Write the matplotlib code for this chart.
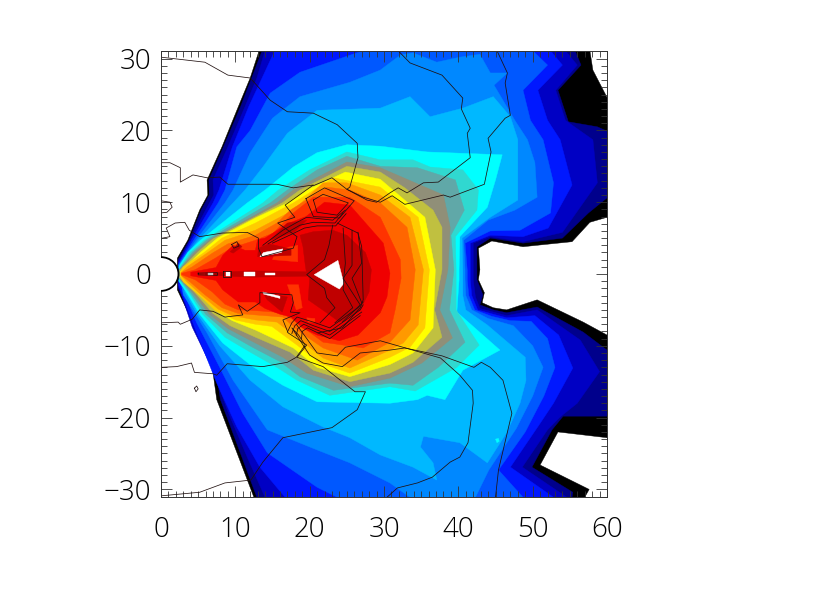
import matplotlib
matplotlib.use("Agg")
import matplotlib.pyplot as plt
from matplotlib.patches import Circle
from matplotlib.ticker import MultipleLocator

colors = ["#000000", "#00008c", "#0000c4", "#0018ff", "#0058ff", "#0088ff", "#00b8ff", "#00ffff",
          "#30d8d0", "#60a8a8", "#908f78", "#c0c040", "#ffff00", "#ffcc00", "#ff9900", "#ff6600",
          "#ff3300", "#f00000"]

B0 = [(13.2,31.1),(12,27.3),(10.4,23.3),(8.2,17.7),(6.2,13.1),(6.3,11),(5.2,8.9),(3.6,4.7),(2.2,2.2),(2.2,-2.2),(4.3,-6.8),(6.9,-13),(7.5,-17.5),(12.5,-31.1),
      (57,-31.1),(57.6,-30),(51,-26.6),(53.4,-22),(60,-22.8),(60,-8.5),(56.8,-6.7),(50.6,-3.6),(46.5,-5),(44.7,-4.7),(43.2,-4),(43.5,-2.6),(42.7,-.8),(42.9,.6),(42.7,3.6),(44.5,4.6),(48.7,3.8),(55.3,4.5),(57.7,7.2),(60,7.9),(60,24.6),(58.1,28.4),(57.7,31.1)]
B1 = [(13.6,31.1),(12.2,27.3),(10.7,23.3),(8.4,17.7),(6.45,13.1),(6.5,11),(5.4,8.9),(3.8,4.7),(2.3,2),(2.3,-2),(4.5,-6.8),(7.3,-13),(8,-17.5),(12.9,-31.1),
      (55.3,-31.1),(55.4,-30.4),(49.9,-26.9),(52.6,-21.7),(54.1,-19.8),(60,-19.8),(60,-10.6),(56.8,-8.1),(50.6,-4.6),(46.5,-5.4),(44.7,-5),(42.9,-4.3),(43.3,-2.9),(42.5,-.8),(42.5,.5),(42.5,3.8),(44.3,5),(48.7,4.3),(54,5),(57.5,8.5),(60,10.6),(60,19.9),(58.7,20.5),(54.8,21.2),(53.4,25.6),(56.5,29.1),(55.7,31.1)]
B2 = [(14,31.1),(12.9,27.3),(11.3,23.3),(9,17.7),(7,13.1),(7.1,11),(6,8.9),(3.9,4.7),(2.4,1.8),(2.4,-1.8),(4.2,-7.4),(7,-13.4),(8.9,-18.9),(11.6,-25.5),(14,-31.1),
      (54.6,-31.1),(48.6,-26.9),(52,-21.7),(53.7,-19.9),(56,-18),(59,-13.6),(56.4,-9.2),(50.6,-5),(46.5,-5.8),(44.7,-5.3),(42.9,-4.8),(42.3,-3.2),(42,-.8),(42,.5),(42,4.3),(44.3,5.2),(48.7,4.5),(54,5.8),(58.7,12.7),(58.1,18.7),(54.4,21.4),(53.1,25.6),(56,29.1),(54.4,31.1)]
B3 = [(15.3,31.1),(13.6,27.3),(11.8,23.3),(9.6,17.7),(7.8,11.7),(7,9.9),(4.1,4.7),(2.4,1.6),(2.4,-1.6),(4.8,-8.2),(7.5,-15.2),(10.2,-21.3),(13.3,-26.9),(16.7,-31.1),
      (52.8,-31.1),(47,-26.9),(51,-20.8),(52.8,-18),(55.4,-13.1),(53.5,-8.5),(50.3,-5.8),(46.5,-6.1),(44.7,-5.6),(42.6,-5),(41.8,-3),(41.6,-.8),(41.6,.5),(41.6,4.3),(44.3,5.4),(48.7,5.2),(52.1,6.4),(55.3,12.4),(53.7,18.7),(52,21.4),(50.7,25.6),(54,29.1),(52.4,31.1)]
B4 = [(27.2,31.1),(18.7,28.1),(14.7,25.2),(12,20),(10.2,17.7),(8.6,11.7),(7.7,9.9),(4.4,4.7),(2.4,1.4),(2.6,-1.4),(4.8,-6.8),(7.9,-13),(11,-19.4),(14.3,-24.9),(21,-29.7),(23.7,-31.1),
      (48.7,-31.1),(45.4,-27.3),(49,-22),(51.5,-17),(53,-13),(52,-9),(49.8,-6.6),(47,-6.5),(44.5,-5.9),(42.2,-5),(41.4,-3),(41.2,-.8),(41.2,.5),(40.9,4.3),(44.3,6),(48.3,6.1),(52.4,8.5),(52.8,12.7),(51.4,18.7),(49.7,21.4),(48.7,25.6),(52,29.1),(50,31.1)]
B5 = [(33.9,30.8),(32.2,30.5),(29.5,28.4),(25.4,26.7),(18.7,24.7),(15,21.7),(12,16.9),(9.7,11.7),(8.6,9.9),(4.7,4.7),(2.4,1.3),(3,-2.9),(6.2,-8.2),(9.7,-14.8),(14.3,-21.7),(21,-24.5),(25.4,-26.3),(30.8,-29.1),(33.5,-31.1),
      (42.3,-31.1),(44.1,-27.3),(47.8,-21.5),(50,-17),(51.4,-13),(50,-10),(47.4,-7.2),(44,-6.2),(41.8,-5),(41,-3),(40.9,-.8),(40.9,.6),(40.7,4.7),(44,7.5),(47.6,8.9),(50.6,10.7),(50.3,15.5),(49.3,18.7),(47.6,21.4),(44.8,26.3),(46.6,28),(44.3,28),(42.9,30.6),(40.2,30.2),(37.1,29.5)]
B6 = [(29.5,23.1),(21,22.8),(17,19.6),(13.7,14.9),(11.3,11.7),(9.7,9.9),(5,4.7),(2.4,1.2),(3.2,-2.5),(4.9,-5.6),(7.9,-10),(12,-14.8),(16.4,-18.5),(21.8,-21.3),(25.4,-22.8),(29.5,-25.2),(33.9,-26.9),(37.1,-28.7),(36.6,-26.3),(34.9,-24.1),(35.3,-22.6),(40.2,-23.5),(43.9,-26.3),(46.5,-22.1),(48.3,-18),(49.1,-14.8),(49,-11.6),(43.9,-7.1),(41,-5),(40.6,-3),(40.6,-.8),(40.6,.6),(40.5,5),(44.3,7.9),(48,10.3),(48,18.7),(47,21.9),(44.7,24.7),(40.6,23.1),(36.2,21.9),(33.5,24.7)]
B7 = [(25,18),(21,16.9),(17.8,14.9),(14,11.7),(11.6,9.9),(5.3,4.7),(3.6,3),(2.4,1),(2.4,-1),(3.4,-2.5),(5.2,-5.6),(8.3,-9.6),(12.2,-12.8),(16.4,-15.5),(21,-17.8),(30.8,-18),(34.5,-17.5),(35.8,-16.9),(38.2,-17.5),(40.6,-13.4),(45.6,-10.6),(39.8,-5.3),(40.1,-.8),(40.1,.6),(40.2,5.2),(43.9,9.3),(45,13.1),(45.9,16.6),(35.8,17),(29.5,17.8)]
B8 = [(25,17),(20,14.5),(15.8,11.7),(13.7,9.9),(5.8,4.7),(3.9,3),(2.5,.9),(2.5,-.9),(3.7,-2.5),(5.6,-5.6),(8.6,-8.8),(12.2,-11),(15.6,-13),(18.3,-14.8),(22.7,-16.9),(30.8,-15.7),(34.2,-16.3),(39.8,-13),(42.8,-9.9),(39.7,-5),(39.7,.6),(39.6,5.2),(42.5,8.9),(42.7,11.7),(40.6,14.5),(36.2,14.9),(33.9,15.9),(29.5,15.9)]
B9 = [(25,16.4),(21,14.5),(17,11.7),(14.7,9.9),(6.1,4.7),(4.2,3),(2.5,.7),(2.5,-.7),(3.9,-2.5),(6,-5.6),(8.9,-8.2),(12.3,-10.2),(16,-12.2),(18.7,-14.3),(23.2,-16.2),(30.8,-15.2),(33.9,-15.5),(37.3,-13),(40.9,-9.5),(38.8,-5),(39.4,.6),(39,5.4),(40.8,8.9),(39.6,13.1),(34.5,14.8),(29.5,15)]
B10 = [(25,15.6),(17.8,11.7),(15.6,9.9),(6.5,4.7),(4.5,3),(2.5,.6),(2.5,-.6),(4.2,-2.5),(6.5,-5.6),(9,-7.6),(12.5,-9.5),(16.4,-11.6),(19.6,-13.8),(25.4,-15.7),(30.8,-14.5),(35.1,-12.4),(39.2,-8.9),(37.5,-5),(38.6,.6),(38.9,6.5),(38,11),(29.5,14.8)]
B11 = [(25,15),(18.7,11.7),(16.3,9.9),(7,4.9),(4.9,3),(2.5,.5),(2.5,-.5),(4.5,-2.5),(7,-5.5),(9.3,-7.2),(12.7,-8.8),(17.4,-10.9),(20.5,-13.4),(25.4,-15),(30.8,-13.8),(33.9,-12.3),(37.8,-8.8),(36.8,-5),(37.8,.6),(37.8,6.5),(36.6,8.9),(32.8,12),(29.5,14.2)]
B12 = [(24.8,14.2),(19.6,11.7),(17,9.9),(12.7,7.8),(7.6,5),(5.3,3),(2.6,.3),(2.6,-.3),(4.8,-2.5),(7.7,-5.3),(9.6,-6.5),(12.7,-7.8),(17.8,-10.3),(21,-13),(25.4,-14.3),(30.8,-12.6),(33.9,-11),(36.6,-7.5),(36.9,.6),(35.5,7.9),(29.5,13.2)]
B13 = [(23.2,13.4),(17.8,9.9),(12.7,7.1),(8.2,5),(5.8,3),(3,1),(2.6,.25),(2.6,-.25),(3,-1.1),(5.2,-3),(7.3,-5.1),(10,-6.4),(12.7,-7),(14.9,-7.3),(18.3,-9.9),(21.4,-12.4),(25.4,-13.8),(30.8,-11.6),(33.5,-10.2),(35.5,-7.5),(36.1,.6),(34.6,7.9),(29.5,12.1)]
B14 = [(25,12.7),(21.8,12.7),(17.8,8.9),(12.7,6.1),(8.6,4.7),(6.3,3),(3.5,1),(2.7,.2),(2.7,-.2),(3.5,-1.1),(5.5,-3),(7.7,-4.9),(9.6,-5.8),(12.7,-6.4),(15.6,-6.7),(18.4,-8.9),(21.8,-11.7),(25.4,-13.1),(30.8,-10.6),(32.6,-9.6),(34.6,-7.1),(35.3,.6),(33.5,7.9),(29.5,11)]
B15 = [(25.4,11.7),(22.3,12.1),(17.4,8.9),(15.6,7.1),(12.7,5.4),(9,4.2),(6.9,2.9),(4.2,1),(2.7,.15),(2.7,-.15),(3.9,-1.1),(5.9,-2.9),(8.2,-4.7),(10.4,-5.5),(12.7,-5.7),(16.4,-6),(18.3,-7.8),(21.8,-10.3),(26.4,-12),(30.8,-9.5),(33.5,-6.4),(34.2,.6),(33.1,6.5),(29.5,9.9)]
B16 = [(25.4,10.7),(20.5,10.7),(17.8,8.5),(15.1,5.7),(12.7,4.7),(9.4,3.6),(7.3,2.2),(4.6,.6),(2.8,.1),(2.8,-.1),(4.6,-.8),(6.9,-2.5),(8.6,-4.2),(10.4,-5),(12.7,-5.1),(16.4,-5.4),(18.3,-6.8),(21.8,-9.5),(27.2,-10.3),(30.8,-8.2),(31.5,-5),(32.3,-.6),(32.2,2),(29.5,7.9)]
B17 = [(25.4,9.6),(22,10),(19.5,8),(17,7),(14,5),(13,4.8),(12.7,3.3),(11.3,3.3),(9.7,4),(8.3,2.6),(7.4,.9),(4,.25),(4,-.25),(7.4,-.9),(8.3,-2.2),(10.4,-3.9),(12.7,-3.9),(14,-4.8),(16,-5.6),(17.5,-6),(19,-7.5),(21,-8.5),(24,-9.3),(26.5,-8.5),(29.5,-5.4),(30.4,-3.2),(30.8,.1),(29.9,4.3)]
orange_up = [(15,2),(15.5,3.4),(18.4,4),(18.4,1.7)]
orange_lo1 = [(17,-1.5),(18.5,-1.5),(19,-4.7),(18.2,-5)]
orange_lo2 = [(19.6,-6.1),(20.7,-6.2),(20.7,-6.7),(19.8,-6.7)]
dark_main = [(19.6,-.1),(19.4,1.3),(19.1,3.8),(18.7,5.4),(20.5,5.9),(23.1,6.1),(25,5.4),(27.5,3),(28.3,.6),(28,-2.5),(26.8,-5),(24,-6.7),(22.7,-5.7),(19.8,-3.6),(20,-.6)]
dark_strip = [(6,.15),(12,.45),(19.6,.3),(19.6,-.3),(12,-.45),(6,-.15)]
dark_up = [(13,2.4),(13.1,3.6),(14.5,4.2),(17.5,3.5),(17.5,2.6)]
dark_up2 = [(14.7,4.7),(17,7.1),(19.6,7.5),(18,5.9)]
dark_lo = [(13.7,-2.6),(17,-3.2),(16.3,-5.3),(14.3,-3.6)]
dark_blob = [(9.3,3.1),(10.4,4.3),(10.9,3.8),(9.7,2.9)]
white_core = [(20.6,-.1),(23.8,1.9),(24.6,-1.3),(24,-2.1)]
white_slits = [[(13.3,2.4),(13.8,3),(16.4,3.5),(16.2,3)], [(13.7,-2.5),(16,-3.1),(16,-3.4),(13.8,-2.8)],
               [(6.3,.1),(7,.1),(7,-.1),(6.3,-.1)],
               [(8.8,.25),(9.3,.25),(9.3,-.25),(8.8,-.25)], [(11.2,.25),(12.6,.25),(12.6,-.25),(11.2,-.25)],
               [(14,.15),(15.4,.15),(15.4,-.15),(14,-.15)]]

L1 = [(0,30.2),(5.9,29.5),(9,27.7),(12,27.3),(14.7,24.2),(17,22.6),(20.5,22.4),(23.7,20.8),(26.4,18.2),(26.5,16.2),(25.4,12.1),(25,11.8),(27.7,10.3),(29,10),(30.8,11.3),(31.9,12),(33.1,11.3),(35.3,12.7),(37.3,12.8),(41.6,16.2),(41.2,19.6),(41.6,20.3),(40.4,23),(40.6,24.5),(37.8,27.7),(33.5,29.4),(31.9,31.1)]
L2 = [(0,15.5),(1.2,15.5),(2.6,14.8),(2.6,12.8),(4.3,13.8),(6.2,13.4),(7.9,13.5),(9,12.5),(15.6,12.5),(17.8,12),(20.5,12.4),(16.7,9.6),(18,7.9),(15.7,7.1),(18.3,5.2),(17.8,3.6),(13.6,2.4),(13.1,3.6),(13.1,5),(11.6,5.8),(8.2,5.7),(5.2,5.2),(3.8,6.1),(3.2,7.2),(1.9,7.1),(.7,6.4),(1.2,5.2),(.2,5)]
L3 = [(20.5,12.3),(23,13.4),(25,11.8),(27.2,10.7),(29.5,10),(31.1,10.9),(32.8,9.7),(38,11),(38.9,10.7),(43.5,12.5),(44.4,17),(44,18.9),(46.3,21.7),(47,22.1),(46.3,26.6),(46.6,28),(45.2,31.1)]
L5 = [(0,-6.8),(2.3,-6.7),(2.6,-7),(4.2,-6.3),(5.2,-5),(7,-5.2),(8.6,-6),(11,-5.7),(10.4,-4.3),(11.6,-5.2),(13.3,-4),(13.3,-2.6),(17.6,-2.9),(17.8,-4),(17.4,-5.3),(18.7,-5.4),(16.4,-6.4),(17.1,-8.2),(19.6,-9.9),(18.3,-11.6),(21.8,-12.9),(26.1,-16.4),(27.5,-16.4),(26.4,-18.9),(23,-21.4),(16.4,-22.8),(13.7,-26.2),(12.1,-28.7),(8.6,-29.1),(5.2,-30.4),(0,-30.9)]
L6 = [(0,-13),(2.1,-12.9),(4.1,-12.4),(4.5,-13.7),(7,-13.9),(7.5,-14.1),(8.9,-12.5),(13.7,-12.9),(17,-12.3),(18.2,-11.6),(19.4,-9.9),(18.5,-8.5),(17.6,-7.5),(20,-11.3),(21.8,-12.4),(24.4,-12.9),(26.8,-11),(30.8,-10.6),(32.8,-10.3),(37.8,-11.4),(42.1,-13),(43.1,-12.3),(44.3,-13),(46,-14.8),(47.2,-19.4),(45.4,-27.3),(45,-31.1)]
L7 = [(18.2,-7),(19.4,-8.7),(21,-11),(23.7,-11.4),(24.8,-10.2),(29.5,-9.3),(37.6,-11.7),(40.2,-14.1),(41.9,-16.2),(42,-18),(41.3,-23.5),(40.2,-25.5),(38.9,-26.2),(36.5,-28.3),(34.5,-29.1),(31.8,-29.8),(30.4,-31.1)]
C1 = [(23.1,6.8),(22.6,4),(22,2),(19.6,-.1),(22,-2),(22.3,-3.3),(23.4,-4.7),(21.4,-6.8)]
C2 = [(24.5,6.4),(24.8,1.5),(24.6,-.4),(24.5,-2.2),(25.8,-4.7),(23.4,-6.8)]
C3 = [(25.7,6.1),(25.7,1.2),(24.5,-.6),(26.8,-4.3),(24.4,-6.7)]
C4 = [(26.5,5.8),(27,1.5),(25.7,-.6),(27,-4)]
C5 = [(23.7,7.1),(26.5,5.7),(27,3.8),(27.2,-3.6),(26.8,-4.7),(24.4,-7.5),(21.1,-8.2)]
C6 = [(20.5,10.3),(21.8,11.1),(25.2,9.9),(23.7,8.2),(21,8.6),(20.5,10.3)]
C7 = [(19.5,10.5),(22,12),(26,10.2),(24,7.8),(20.5,8),(19.5,10.5)]
UA = [(13.7,4),(16.4,6.1),(18.3,7.2),(19.6,7.9),(23.1,7.5),(24.8,8.9)]
UB = [(14.4,4.2),(17,5.8),(18.7,6.8),(20.5,7.2),(23.4,7.1),(24.5,8.5)]
UC = [(15,4.3),(17.5,5.5),(19.3,6.4),(21,6.7),(23.5,6.7),(24.9,8.4)]
LA = [(17,-8.1),(17.6,-6.8),(18.3,-6),(20.5,-6.7),(22.7,-7.5),(26.5,-4.7),(27.2,-3.9)]
LB = [(17.6,-8.3),(18,-7.2),(18.8,-6.5),(20.5,-7.2),(22.7,-8),(26.8,-5),(27.2,-4.3)]
LC = [(18.2,-8.6),(18.4,-7.6),(19.2,-7),(20.5,-7.6),(22.7,-8.5),(27,-5.3)]
LD = [(18.9,-9),(19,-8),(19.7,-7.5),(22.7,-9),(26.8,-5.8)]
ring = [(9.5,4.1),(10.2,4.5),(10.5,3.9),(9.8,3.6),(9.5,4.1)]
island = [(4.5,-15.9),(4.8,-15.6),(5,-16),(4.7,-16.4),(4.5,-15.9)]
patch = [(0,10.2),(1.2,10),(1.5,9.3),(.8,8.6),(0,8.5)]
spot_a = [(5,.12),(7.6,.18),(7.6,-.18),(5,-.12),(5,.12)]
spot_b = [(8.4,.45),(9.4,.45),(9.4,-.4),(8.4,-.4),(8.4,.45)]
cyan_dot = [(45,-23),(45.4,-22.9),(45.5,-23.3),(45.2,-23.5)]

outlines = [B0, B1, B2, B3, B4, B5, B6, B7, B8, B9, B10, B11, B12, B13, B14, B15, B16, B17]
contour_lines = [L1, L2, L3, L5, L6, L7, C1, C2, C3, C4, C5, C6, C7, UA, UB, UC, LA, LB, LC, LD, ring, island, patch, spot_a, spot_b]
x_ticks = [0, 10, 20, 30, 40, 50, 60]
y_ticks = [-30, -20, -10, 0, 10, 20, 30]

def poly(ax, pts, c, z):
    xs, ys = zip(*pts)
    ax.fill(xs, ys, facecolor=c, edgecolor=c, linewidth=0.3, zorder=z)

fig = plt.figure(figsize=(8.3, 6), dpi=100)
ax = fig.add_axes([161/830, 103/600, 446/830, 446/600])
for i, (pts, c) in enumerate(zip(outlines, colors)):
    poly(ax, pts, c, 1 + i * 0.01)
for p in (orange_up, orange_lo1, orange_lo2):
    poly(ax, p, "#ff3300", 1.3)
for d in (dark_main, dark_strip, dark_up, dark_up2, dark_lo, dark_blob):
    poly(ax, d, "#c00000", 1.4)
poly(ax, cyan_dot, "#00ffff", 1.4)
poly(ax, white_core, "#ffffff", 1.5)
for s in white_slits:
    poly(ax, s, "#ffffff", 1.5)
for ln in contour_lines:
    xs, ys = zip(*ln)
    ax.plot(xs, ys, color="#201010", lw=0.55, zorder=2)
ax.add_patch(Circle((0, 0), 2.35, facecolor="white", edgecolor="black", lw=1.3, zorder=3))

ax.set_xlim(0, 60)
ax.set_ylim(-31.06, 31.06)
ax.set_xticks(x_ticks)
ax.set_yticks(y_ticks)
ax.xaxis.set_minor_locator(MultipleLocator(1))
ax.yaxis.set_minor_locator(MultipleLocator(1))
ax.tick_params(which="major", direction="in", length=8, width=0.6, top=True, right=True, color="#333333", labelsize=20, labelcolor="#000000")
ax.tick_params(which="minor", direction="in", length=4, width=0.6, top=True, right=True, color="#333333")
ax.tick_params(axis="x", which="major", pad=14)
ax.tick_params(axis="y", which="major", pad=7)
for lab in ax.get_xticklabels() + ax.get_yticklabels():
    lab.set_fontfamily("Open Sans")
    lab.set_fontweight("light")
for s in ax.spines.values():
    s.set_linewidth(0.7)
    s.set_color("#333333")
fig.savefig("out.png", dpi=100)
